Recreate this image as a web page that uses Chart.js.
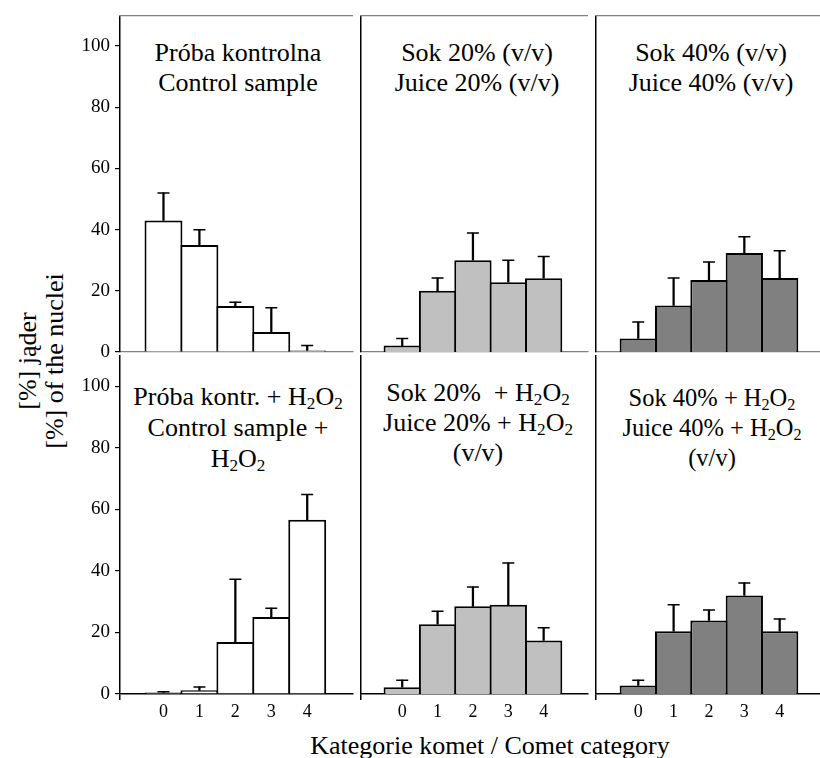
<!DOCTYPE html>
<html>
<head>
<meta charset="utf-8">
<script src="https://cdn.jsdelivr.net/npm/chart.js@4.4.1/dist/chart.umd.min.js"></script>
<style>
html,body{margin:0;padding:0;background:#fff;overflow:hidden;}
#wrap{position:relative;width:820px;height:758px;overflow:hidden;background:#fff;
  font-family:"Liberation Serif","Tinos","Times New Roman","DejaVu Serif",serif;color:#000;}
#wrap canvas{position:absolute;}
.ttl{position:absolute;text-align:center;font-size:26px;line-height:30px;white-space:nowrap;transform:translateX(-50%);}
.ttl sub{font-size:0.66em;line-height:0;vertical-align:-0.24em;}
#ytitle{position:absolute;left:41px;top:361px;transform:translate(-50%,-50%) rotate(-90deg);
  text-align:center;font-size:26px;line-height:27px;white-space:nowrap;}
#xtitle{position:absolute;left:490px;top:731px;transform:translateX(-50%);font-size:26px;line-height:30px;white-space:nowrap;}
</style>
</head>
<body>
<div id="wrap">
  <div class="ttl" style="left:238px;top:38px;">Próba kontrolna<br>Control sample</div>
  <div class="ttl" style="left:477px;top:38px;">Sok 20% (v/v)<br>Juice 20% (v/v)</div>
  <div class="ttl" style="left:711px;top:38px;">Sok 40% (v/v)<br>Juice 40% (v/v)</div>
  <div class="ttl" style="left:238px;top:381px;line-height:31px;">Próba kontr. + H<sub>2</sub>O<sub>2</sub><br>Control sample +<br>H<sub>2</sub>O<sub>2</sub></div>
  <div class="ttl" style="left:478px;top:378px;">Sok 20%&nbsp; + H<sub>2</sub>O<sub>2</sub><br>Juice 20% + H<sub>2</sub>O<sub>2</sub><br>(v/v)</div>
  <div class="ttl" style="left:712px;top:383px;font-size:24.5px;">Sok 40% + H<sub>2</sub>O<sub>2</sub><br>Juice 40% + H<sub>2</sub>O<sub>2</sub><br>(v/v)</div>
  <div id="ytitle">[%] jąder<br>[%] of the nuclei</div>
  <div id="xtitle">Kategorie komet / Comet category</div>
</div>
<script>
// ---- data ----
const categories = ['0', '1', '2', '3', '4'];
const yTickValues = [0, 20, 40, 60, 80, 100];

const controlValues = [43, 35, 15, 6.5, 0.5];
const controlSD     = [9, 5, 1.3, 8, 1.6];

const juice20Values = [2.1, 20, 30, 22.8, 24.1];
const juice20SD     = [2.3, 4.2, 8.9, 7.2, 7.1];

const juice40Values = [4.4, 15.2, 23.5, 32.4, 24.2];
const juice40SD     = [5.4, 9, 5.9, 5.3, 8.9];

const controlH2O2Values = [0.5, 1.2, 16.9, 25, 56.6];
const controlH2O2SD     = [0.2, 1.1, 20.4, 2.9, 8.2];

const juice20H2O2Values = [2.2, 22.7, 28.5, 29, 17.4];
const juice20H2O2SD     = [2.3, 4.2, 6.3, 13.6, 4.1];

const juice40H2O2Values = [2.8, 20.4, 23.9, 32, 20.4];
const juice40H2O2SD     = [1.7, 8.6, 3.4, 4.1, 4.0];

// ---- layout (pixels / axis ranges) ----
const ROWS = [{top: 13, bottom: 352}, {top: 353, bottom: 694}];
const COLS = [
  {left: 120, right: 357, min: -1.21, max: 5.26},
  {left: 357, right: 592, min: -1.18, max: 5.24},
  {left: 592, right: 828, min: -1.21, max: 5.24}
];
const FILLS = ['#ffffff', '#c0c0c0', '#808080'];
const FONT = '"Liberation Serif", "Tinos", "Times New Roman", "DejaVu Serif", serif';

const panels = [
  {row: 0, col: 0, values: controlValues, sd: controlSD},
  {row: 0, col: 1, values: juice20Values, sd: juice20SD},
  {row: 0, col: 2, values: juice40Values, sd: juice40SD},
  {row: 1, col: 0, values: controlH2O2Values, sd: controlH2O2SD},
  {row: 1, col: 1, values: juice20H2O2Values, sd: juice20H2O2SD},
  {row: 1, col: 2, values: juice40H2O2Values, sd: juice40H2O2SD}
];

Chart.defaults.font.family = FONT;
Chart.defaults.color = '#000';

const wrap = document.getElementById('wrap');

function makePanel(p) {
  const col = COLS[p.col], row = ROWS[p.row];
  const isLeft = p.col === 0, isBottom = p.row === 1;
  const padL = isLeft ? 0 : 4;
  const yW = isLeft ? 120 : 0;
  const padT = 5, padR = 3, padB = isBottom ? 0 : 12;
  const xH = isBottom ? 64 : 0;
  const cw = padL + yW + (col.right - col.left) + padR;
  const ch = padT + (row.bottom - row.top) + xH + padB;

  const canvas = document.createElement('canvas');
  canvas.width = cw; canvas.height = ch;
  canvas.style.width = cw + 'px'; canvas.style.height = ch + 'px';
  canvas.style.left = (col.left - yW - padL) + 'px';
  canvas.style.top = (row.top - padT) + 'px';
  wrap.appendChild(canvas);

  const bars = p.values.map((v, i) => ({x: i, y: v}));
  const stems = p.values.map((v, i) => ({x: i, y: [v, v + p.sd[i]]}));
  const caps = p.values.map((v, i) => ({x: i, y: v + p.sd[i]}));

  const scales = {
    x: {
      type: 'linear', position: 'bottom', min: col.min, max: col.max, offset: false,
      afterBuildTicks: s => { s.ticks = [col.min].concat(categories.map((c, i) => i)).map(v => ({value: v})); },
      ticks: {
        display: isBottom, autoSkip: false, maxRotation: 0, minRotation: 0, padding: 1,
        font: {size: 18, family: FONT}, color: '#000',
        callback: (v, i) => (i === 0 ? '' : categories[v])
      },
      grid: {
        display: isBottom, offset: false, drawOnChartArea: false, drawTicks: true, tickLength: 6, lineWidth: 1.5,
        color: c => (c.index === 0 ? '#000' : 'rgba(0,0,0,0)')
      },
      border: {display: true, color: isBottom ? '#000' : '#808080', width: isBottom ? 1.5 : 1.2},
      afterFit: s => { s.height = xH; s.paddingLeft = 0; s.paddingRight = 0; }
    },
    y: {
      type: 'linear', position: 'left', min: 0, max: 110,
      afterBuildTicks: s => { s.ticks = yTickValues.map(v => ({value: v})); },
      ticks: {display: isLeft, padding: 5, font: {size: 19, family: FONT}, color: '#000'},
      grid: {display: isLeft, drawOnChartArea: false, drawTicks: true, tickLength: 5, lineWidth: 1.2, color: '#000'},
      border: {display: true, color: '#000', width: 1.5},
      afterFit: s => { s.width = yW; s.paddingTop = 0; s.paddingBottom = 0; }
    }
  };
  if (!isBottom) {
    scales.xTop = {
      type: 'linear', position: 'top', display: true, offset: false,
      ticks: {display: false}, grid: {display: false},
      border: {display: true, color: '#808080', width: 1.2},
      afterFit: s => { s.height = 0; s.paddingLeft = 0; s.paddingRight = 0; }
    };
  }

  new Chart(canvas, {
    type: 'bar',
    data: {
      datasets: [
        {
          type: 'line', data: caps, showLine: false,
          pointStyle: 'line', pointRadius: 6, pointHoverRadius: 6,
          pointBorderWidth: 1.5, pointBorderColor: '#000', borderColor: '#000',
          order: 0
        },
        {
          type: 'bar', data: stems, backgroundColor: '#000', borderWidth: 0,
          barThickness: 1.6, grouped: false, order: 1
        },
        {
          type: 'bar', data: bars, backgroundColor: FILLS[p.col], borderColor: '#000',
          borderWidth: 2, categoryPercentage: 1, barPercentage: 1.055, grouped: false, order: 2
        }
      ]
    },
    options: {
      responsive: false, animation: false,
      layout: {padding: {left: padL, top: padT, right: padR, bottom: padB}},
      plugins: {legend: {display: false}, tooltip: {enabled: false}, title: {display: false}},
      scales: scales
    }
  });
}

panels.forEach(makePanel);
</script>
</body>
</html>
